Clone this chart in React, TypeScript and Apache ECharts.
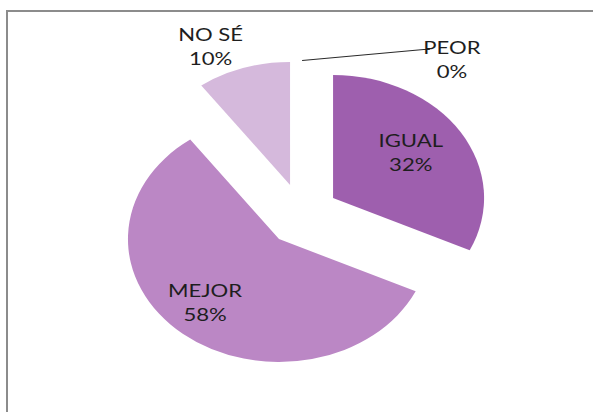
import React, { useEffect, useRef } from "react";
import * as echarts from "echarts";

const categories = ["IGUAL", "MEJOR", "NO SÉ", "PEOR"];
const values = [32, 58, 10, 0];
const colors = ["#9e5fae", "#bb87c5", "#d5b9dc", "#c9a0d4"];

// horizontal stretch of the original picture
const S = 1.228;
const W = 593 / S;
const H = 412;

// layout (unstretched coordinates)
const centers: [number, number][] = [
  [271.2, 198],
  [227.2, 239],
  [236.2, 185],
];
const RADIUS = 123;
const labelPos: { x: number; y: number; pts?: number[][] }[] = [
  { x: 334.5, y: 152 },
  { x: 167, y: 302 },
  { x: 171.5, y: 46 },
  { x: 368, y: 59, pts: [[246, 60.5], [345, 49.5], [350, 49.5]] },
];

export default function App() {
  const ref = useRef<HTMLDivElement>(null);
  useEffect(() => {
    if (!ref.current) return;
    const chart = echarts.init(ref.current, null, { renderer: "svg" });
    const series = [0, 1, 2].map((k) => ({
      type: "pie",
      center: centers[k],
      radius: RADIUS,
      startAngle: 90,
      clockwise: true,
      avoidLabelOverlap: false,
      silent: true,
      percentPrecision: 0,
      emphasis: { disabled: true },
      label: {
        formatter: "{b}\n{d}%",
        fontFamily: "Lato",
        fontSize: 18,
        lineHeight: 24,
        color: "#1e1e1e",
        position: k === 2 ? "outside" : "inside",
      },
      labelLine: { show: false },
      labelLayout: (p: any) => {
        const lp = labelPos[p.dataIndex];
        const o: any = { x: lp.x, y: lp.y, align: "center", verticalAlign: "middle" };
        if (lp.pts) o.labelLinePoints = lp.pts;
        return o;
      },
      data: categories.map((name, i) => {
        const visible = i === k;
        const showLabel = visible || (k === 2 && i === 3);
        return {
          name,
          value: values[i],
          itemStyle: {
            color: visible ? colors[i] : "rgba(0,0,0,0)",
            borderWidth: 0,
          },
          label: { show: showLabel },
          labelLine:
            k === 2 && i === 3
              ? { show: true, length: 10, length2: 10, lineStyle: { color: "#2a2a2a", width: 1 } }
              : { show: false },
        };
      }),
    }));
    chart.setOption({
      animation: false,
      backgroundColor: "#ffffff",
      graphic: [
        { type: "rect", shape: { x: 6 / S, y: 10, width: W, height: 2 }, style: { fill: "#8c8c8c" } },
        { type: "rect", shape: { x: 6 / S, y: 10, width: 2 / S, height: H }, style: { fill: "#8c8c8c" } },
      ],
      series,
    });
    return () => chart.dispose();
  }, []);
  return (
    <div style={{ position: "absolute", left: 0, top: 0, width: 593, height: 412, overflow: "hidden", background: "#fff" }}>
      <div
        ref={ref}
        style={{ width: W, height: H, transform: `scaleX(${S})`, transformOrigin: "0 0" }}
      />
    </div>
  );
}
